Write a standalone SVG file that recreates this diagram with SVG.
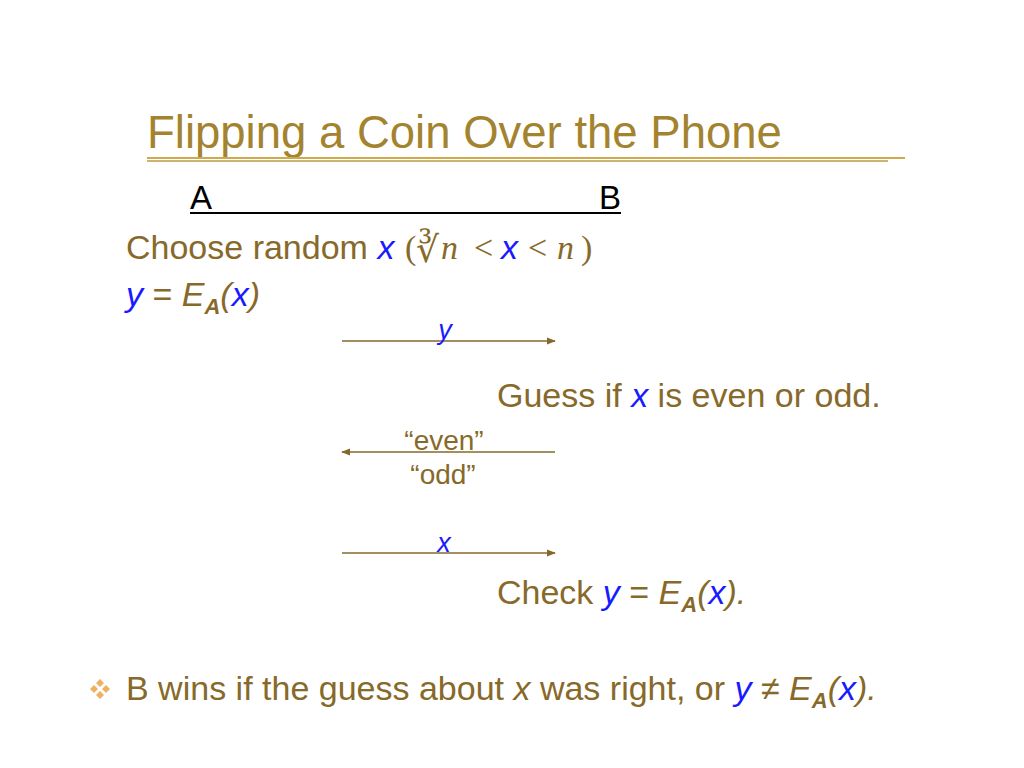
<svg xmlns="http://www.w3.org/2000/svg" width="1024" height="768" viewBox="0 0 1024 768">
<style>
.t{font-family:"Liberation Sans",Arial,sans-serif;fill:#87692a}
.v{fill:#1a1aff;font-style:italic}
.m{font-family:"Liberation Serif","DejaVu Serif",serif}
.c{stroke:#86692a;stroke-width:1.5;fill:none}
</style>
<defs>
<marker id="ah" viewBox="0 0 10 10" refX="9" refY="5" markerWidth="9" markerHeight="9" markerUnits="userSpaceOnUse" orient="auto">
<path d="M0,1 L10,5 L0,9 Z" fill="#86692a"/>
</marker>
</defs>
<rect width="1024" height="768" fill="#ffffff"/>
<g id="title">
<text x="147" y="148" class="t" font-size="45.5" style="fill:#a4832f">Flipping a Coin Over the Phone</text>
<line x1="147" y1="158" x2="905" y2="158" stroke="#d2a94a" stroke-width="2"/>
<line x1="147" y1="161" x2="888" y2="161" stroke="#c9b476" stroke-width="2"/>
</g>
<g id="parties">
<text x="190" y="209" class="t" font-size="33" style="fill:#000">A</text>
<text x="599" y="209" class="t" font-size="33" style="fill:#000">B</text>
<line x1="190" y1="213" x2="621" y2="213" stroke="#000" stroke-width="2"/>
</g>
<g id="step-choose">
<text y="259" class="t" font-size="34"><tspan x="126">Choose random </tspan><tspan class="v">x</tspan><tspan class="m" x="405">(</tspan><tspan x="416" y="262" font-family="DejaVu Serif,serif" font-size="36">∛</tspan><tspan x="441" y="259" class="m" font-style="italic">n</tspan><tspan class="m" x="474">&lt;</tspan><tspan class="v" x="501">x</tspan><tspan class="m" x="528">&lt;</tspan><tspan class="m" font-style="italic" x="557">n</tspan><tspan class="m" x="581">)</tspan></text>
</g>
<g id="step-encrypt">
<text x="126" y="306" class="t" font-size="34"><tspan class="v">y</tspan> = <tspan font-style="italic">E</tspan><tspan font-size="22" font-weight="bold" font-style="italic" dy="8">A</tspan><tspan dy="-8" font-style="italic">(</tspan><tspan class="v">x</tspan><tspan font-style="italic">)</tspan></text>
</g>
<g id="step-guess">
<text x="497" y="407" class="t" font-size="34">Guess if <tspan class="v">x</tspan> is even or odd.</text>
</g>
<g id="step-check">
<text x="497" y="604" class="t" font-size="34">Check <tspan class="v">y</tspan> = <tspan font-style="italic">E</tspan><tspan font-size="22" font-weight="bold" font-style="italic" dy="8">A</tspan><tspan dy="-8" font-style="italic">(</tspan><tspan class="v">x</tspan><tspan font-style="italic">).</tspan></text>
</g>
<g id="connectors">
<line x1="342" y1="341" x2="555" y2="341" class="c" marker-end="url(#ah)"/>
<text x="445" y="339" class="t v" font-size="27" text-anchor="middle">y</text>
<line x1="555" y1="452" x2="342" y2="452" class="c" marker-end="url(#ah)"/>
<text x="444" y="450" class="t" font-size="28" text-anchor="middle">“even”</text>
<text x="443" y="484" class="t" font-size="28" text-anchor="middle">“odd”</text>
<line x1="342" y1="553" x2="555" y2="553" class="c" marker-end="url(#ah)"/>
<text x="444" y="552" class="t v" font-size="27" text-anchor="middle">x</text>
</g>
<g id="conclusion">
<g fill="#f0b060">
<polygon points="100,679 104,683 100,687 96,683"/>
<polygon points="94,685 98,689 94,693 90,689"/>
<polygon points="106,685 110,689 106,693 102,689"/>
<polygon points="100,691 104,695 100,699 96,695"/>
</g>
<text x="126" y="700" class="t" font-size="34">B wins if the guess about <tspan font-style="italic">x</tspan> was right, or <tspan class="v">y</tspan> ≠ <tspan font-style="italic">E</tspan><tspan font-size="22" font-weight="bold" font-style="italic" dy="8">A</tspan><tspan dy="-8" font-style="italic">(</tspan><tspan class="v">x</tspan><tspan font-style="italic">).</tspan></text>
</g>
</svg>
